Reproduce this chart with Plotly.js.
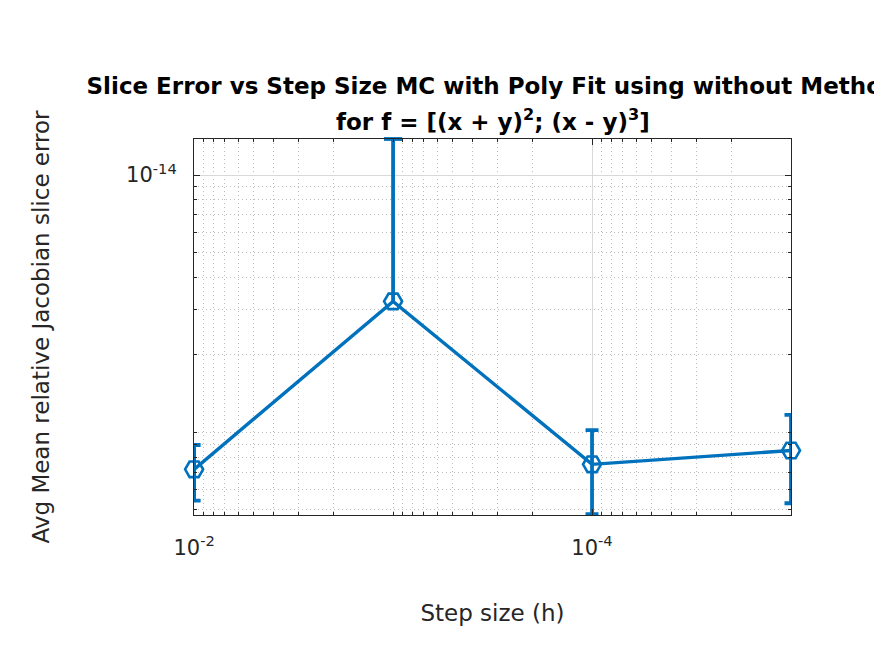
<!DOCTYPE html>
<html>
<head>
<meta charset="utf-8">
<script src="https://cdn.plot.ly/plotly-3.0.1.min.js"></script>
<style>html,body{margin:0;padding:0;background:#fff;}#chart{width:874px;height:655px;}</style>
</head>
<body>
<div id="chart"></div>
<script>
// Data
var stepSizes = [1e-2, 1e-3, 1e-4, 1e-5];
var meanErr   = [7.19e-16, 3.23e-15, 7.52e-16, 8.51e-16];
var errUp     = [1.75e-16, 1.057e-14, 2.70e-16, 3.20e-16];
var errDown   = [1.75e-16, null, 2.70e-16, 3.20e-16]; // lower bar of point 2 falls below zero (not drawn)

var xTickVals = [1e-2, 1e-4];
var xTickText = ['10<sup>-2</sup>', '10<sup>-4</sup>'];
var yTickVals = [1e-14];
var yTickText = ['10<sup>-14</sup>'];

var titleLine1 = 'Slice Error vs Step Size MC with Poly Fit using without Method';
var titleLine2 = 'for f = [(x + y)<sup>2</sup>; (x - y)<sup>3</sup>]';

var blue = '#0072BD';

function minorLogVals(loExp, hiExp, skip) {
  var out = [];
  for (var e = loExp; e <= hiExp; e++) {
    for (var m = 1; m <= 9; m++) {
      var v = m * Math.pow(10, e);
      var isMajor = skip.some(function (s) { return Math.abs(s - v) / s < 1e-9; });
      if (!isMajor) out.push(v);
    }
  }
  return out;
}
var xMinor = minorLogVals(-6, -2, xTickVals);
var yMinor = minorLogVals(-17, -14, yTickVals);

var errX = [], errY = [], errP = [], errM = [];
var upX = [], upY = [];
for (var i = 0; i < stepSizes.length; i++) {
  if (errDown[i] === null) {
    upX.push(stepSizes[i], stepSizes[i]);
    upY.push(meanErr[i], meanErr[i] + errUp[i]);
  } else {
    errX.push(stepSizes[i]); errY.push(meanErr[i]);
    errP.push(errUp[i]); errM.push(errDown[i]);
  }
}

var traces = [
  {
    x: errX, y: errY, type: 'scatter', mode: 'markers',
    marker: {size: 1, opacity: 0, color: blue},
    error_y: {type: 'data', symmetric: false, array: errP, arrayminus: errM,
              color: blue, thickness: 3.8, width: 6.5},
    hoverinfo: 'skip', showlegend: false, cliponaxis: false
  },
  {
    x: upX, y: upY, type: 'scatter', mode: 'lines',
    line: {color: blue, width: 3.8}, hoverinfo: 'skip', showlegend: false
  },
  {
    x: [upX[1]], y: [upY[1]], type: 'scatter', mode: 'markers',
    marker: {symbol: 'line-ew-open', size: 13, color: blue, line: {color: blue, width: 3.8}},
    hoverinfo: 'skip', showlegend: false, cliponaxis: false
  },
  {
    x: stepSizes, y: meanErr, type: 'scatter', mode: 'lines+markers',
    line: {color: blue, width: 3.4},
    marker: {symbol: 'hexagon2-open', size: 18, color: blue, line: {color: blue, width: 2.6}},
    showlegend: false, cliponaxis: false
  }
];

var axisCommon = {
  type: 'log',
  showline: true, linecolor: '#262626', linewidth: 1, mirror: 'ticks',
  ticks: 'inside', ticklen: 6, tickcolor: '#262626', tickwidth: 1,
  showgrid: true, gridcolor: '#d9d9d9', gridwidth: 1,
  zeroline: false,
  tickmode: 'array',
  tickfont: {family: 'DejaVu Sans', size: 21, color: '#262626'}
};

var layout = {
  width: 874, height: 655,
  paper_bgcolor: '#ffffff', plot_bgcolor: '#ffffff',
  margin: {l: 194, r: 83, t: 139, b: 140},
  showlegend: false,
  title: {
    text: titleLine1,
    font: {family: 'DejaVu Sans', size: 23, color: '#000000', weight: 'bold'},
    x: 0.5, xref: 'paper', xanchor: 'center',
    y: 1 - 86 / 655, yref: 'container', yanchor: 'middle'
  },
  annotations: [{
    text: titleLine2, showarrow: false,
    xref: 'paper', yref: 'paper', x: 0.5, y: (515 - 120) / 376,
    xanchor: 'center', yanchor: 'middle',
    font: {family: 'DejaVu Sans', size: 23, color: '#000000', weight: 'bold'}
  }],
  xaxis: Object.assign({}, axisCommon, {
    range: [-1.9995, -5],
    tickvals: xTickVals, ticktext: xTickText,
    ticklabelstandoff: 14,
    minor: {tickmode: 'array', tickvals: xMinor, ticks: 'inside', ticklen: 3, tickcolor: '#262626',
            showgrid: true, gridcolor: '#bdbdbd', gridwidth: 1, griddash: '1px,3px'},
    title: {text: 'Step size (h)', font: {family: 'DejaVu Sans', size: 23, color: '#262626'}, standoff: 45}
  }),
  yaxis: Object.assign({}, axisCommon, {
    range: [Math.log10(4.78e-16), Math.log10(1.38e-14)],
    tickvals: yTickVals, ticktext: yTickText,
    ticklabelstandoff: 12,
    minor: {tickmode: 'array', tickvals: yMinor, ticks: 'inside', ticklen: 3, tickcolor: '#262626',
            showgrid: true, gridcolor: '#bdbdbd', gridwidth: 1, griddash: '1px,3px'},
    title: {text: 'Avg Mean relative Jacobian slice error', font: {family: 'DejaVu Sans', size: 23, color: '#262626'}, standoff: 70}
  })
};

Plotly.newPlot('chart', traces, layout, {displayModeBar: false, staticPlot: true});
</script>
</body>
</html>
